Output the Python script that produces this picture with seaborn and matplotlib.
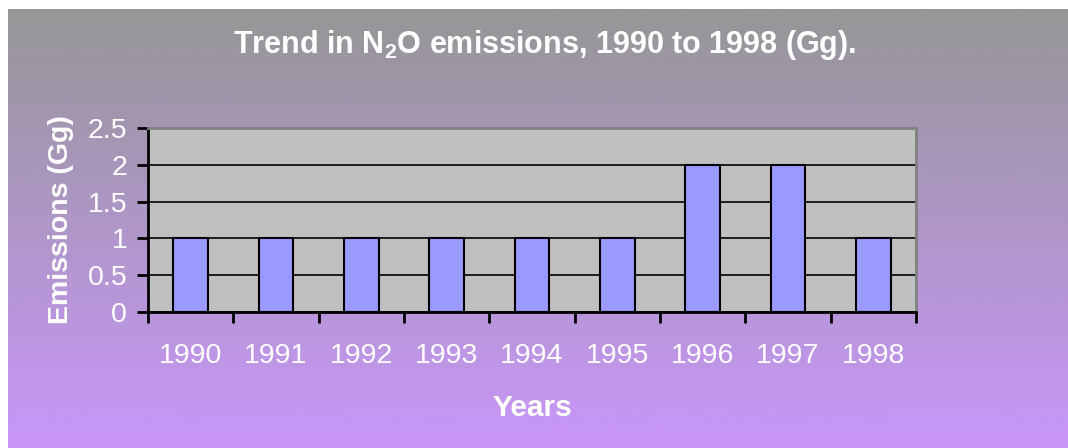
import numpy as np
import pandas as pd
import seaborn as sns
import matplotlib.pyplot as plt

years = ['1990', '1991', '1992', '1993', '1994', '1995', '1996', '1997', '1998']
emissions = [1, 1, 1, 1, 1, 1, 2, 2, 1]
y_ticks = [0, 0.5, 1, 1.5, 2, 2.5]

df = pd.DataFrame({'year': years, 'emissions': emissions})

sns.set_theme(style='white')
plt.rcParams['font.family'] = ['Liberation Sans', 'DejaVu Sans']
plt.rcParams['mathtext.fontset'] = 'custom'
plt.rcParams['mathtext.bf'] = 'Liberation Sans:bold'
plt.rcParams['mathtext.rm'] = 'Liberation Sans'

fig = plt.figure(figsize=(10.68, 4.48), dpi=100)
fig.patch.set_facecolor('white')

# gradient background box, gray at top to violet at bottom
bg = fig.add_axes([8 / 1068, 0, 1060 / 1068, 439 / 448], zorder=0)
top = np.array([150, 150, 150]) / 255
bottom = np.array([201, 150, 250]) / 255
t = np.linspace(0, 1, 256)[:, None]
grad = top * (1 - t) + bottom * t
bg.imshow(grad[:, None, :], aspect='auto', extent=[0, 1, 0, 1])
bg.axis('off')

ax = fig.add_axes([148 / 1068, 1 - 312 / 448, 768 / 1068, 184 / 448], zorder=1)
ax.set_facecolor('#C0C0C0')

sns.barplot(data=df, x='year', y='emissions', color='#9999FF', width=0.41,
            edgecolor='black', linewidth=1.5, saturation=1, ax=ax, zorder=3)

ax.set_xlim(-0.5, len(years) - 0.5)
ax.set_ylim(0, 2.5)
ax.set_yticks(y_ticks)
ax.set_yticklabels(['0', '0.5', '1', '1.5', '2', '2.5'], color='white', fontsize=20.5)
ax.yaxis.grid(True, color='black', linewidth=1.2, zorder=1)
ax.set_axisbelow(True)

# ticks at category boundaries, labels at centres
ax.set_xticks(np.arange(-0.5, len(years), 1.0))
ax.set_xticklabels([])
ax.set_xticks(range(len(years)), minor=True)
ax.set_xticklabels(years, minor=True, color='white', fontsize=20.5)
ax.tick_params(axis='x', which='major', direction='out', length=8, width=2, color='black', bottom=True)
ax.tick_params(axis='x', which='minor', length=0, pad=22)
ax.tick_params(axis='y', direction='out', length=8, width=2, color='black', left=True, pad=7)

for side in ['left', 'bottom']:
    ax.spines[side].set_color('black')
    ax.spines[side].set_linewidth(2)
for side in ['top', 'right']:
    ax.spines[side].set_color('#808080')
    ax.spines[side].set_linewidth(2)

ax.set_xlabel('Years', color='white', fontsize=21.5, fontweight='bold', labelpad=18)
ax.set_ylabel('Emissions (Gg)', color='white', fontsize=20.5, fontweight='bold', labelpad=10)

fig.text(545 / 1068, 1 - 45 / 448, r'Trend in N$_\mathbf{2}$O emissions, 1990 to 1998 (Gg).',
         ha='center', va='center', color='white', fontsize=22, fontweight='bold')

plt.savefig('out.png', dpi=100)
